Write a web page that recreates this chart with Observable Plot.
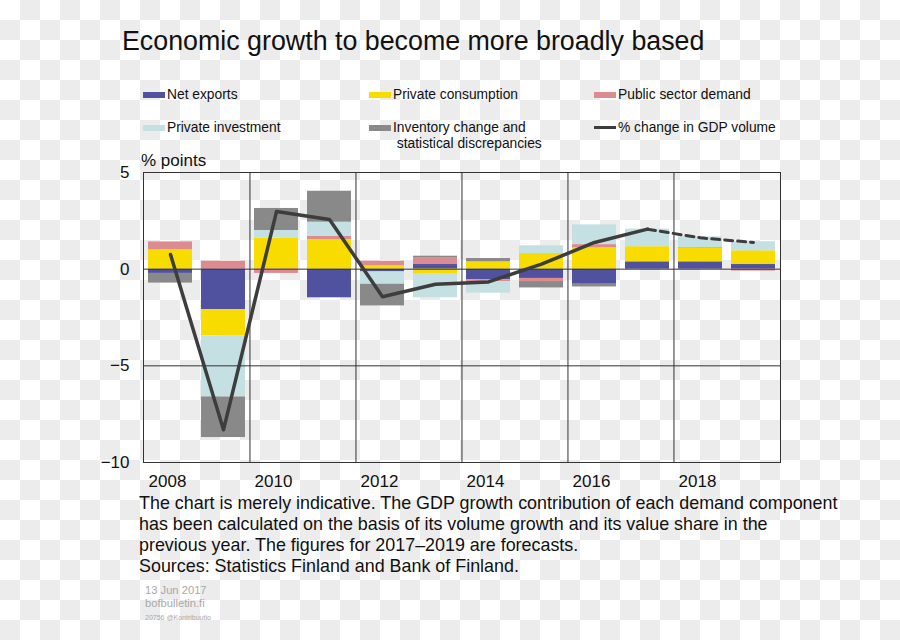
<!DOCTYPE html>
<html>
<head>
<meta charset="utf-8">
<script src="https://cdn.jsdelivr.net/npm/d3@7"></script>
<script src="https://cdn.jsdelivr.net/npm/@observablehq/plot@0.6"></script>
<style>
  html, body { margin: 0; padding: 0; }
  body {
    width: 900px; height: 640px; position: relative; overflow: hidden;
    font-family: "Liberation Sans", Arial, sans-serif; color: #111;
    background: repeating-conic-gradient(#ececec 0% 25%, #ffffff 0% 50%) 0 0 / 40px 40px;
  }
  .abs { position: absolute; white-space: nowrap; }
  #title { left: 122px; top: 26px; font-size: 26.8px; }
  .leg { position: absolute; font-size: 13.8px; line-height: 16px; }
  .sw { position: absolute; width: 22px; height: 6px; }
  #chart { position: absolute; left: 0; top: 150px; }
  #ylab { left: 141px; top: 151px; font-size: 17px; }
  #note { left: 139px; top: 492.5px; font-size: 17.9px; line-height: 21.3px; }
  #meta { left: 145px; top: 584px; color: #a9a9a9; font-size: 11.2px; line-height: 13px; }
</style>
</head>
<body>
<div id="title" class="abs">Economic growth to become more broadly based</div>
<div id="legend"></div>
<div id="chart"></div>
<div id="ylab" class="abs">% points</div>
<div id="note" class="abs">The chart is merely indicative. The GDP growth contribution of each demand component<br>has been calculated on the basis of its volume growth and its value share in the<br>previous year. The figures for 2017–2019 are forecasts.<br>Sources: Statistics Finland and Bank of Finland.</div>
<div id="meta" class="abs">13 Jun 2017<br>bofbulletin.fi<br><span style="font-size:7px;line-height:9px">20756 @Kontribuutio</span></div>
<script>
// ---- data ----
const years = [2008, 2009, 2010, 2011, 2012, 2013, 2014, 2015, 2016, 2017, 2018, 2019];
const tickYears = [2008, 2010, 2012, 2014, 2016, 2018];
const components = ["Net exports", "Private consumption", "Public sector demand", "Private investment", "Inventory change and statistical discrepancies"];
const colors = ["#50519f", "#f8dc00", "#dc8b90", "#c4e0e3", "#898989"];

const netExports      = [-0.22, -2.09,  0.00, -1.48, -0.14,  0.24, -0.55, -0.48, -0.78, 0.38, 0.38, 0.24];
const privConsumption = [ 1.00, -1.36,  1.60,  1.52,  0.17, -0.26,  0.38,  0.81,  1.10, 0.78, 0.71, 0.71];
const publicDemand    = [ 0.41,  0.41, -0.22,  0.17,  0.24,  0.36, -0.09, -0.16,  0.17, 0.00, 0.03, -0.10];
const privInvestment  = [ 0.00, -3.16,  0.40,  0.74, -0.64, -1.22, -0.60,  0.40,  1.02, 0.91, 0.55, 0.47];
const inventory       = [-0.50, -2.10,  1.14,  1.60, -1.12,  0.07,  0.17, -0.33, -0.14, 0.00, 0.00, 0.00];
const gdpChange       = [ 0.76, -8.31,  2.98,  2.57, -1.43, -0.78, -0.66,  0.26,  1.38, 2.07, 1.62, 1.38];
const forecastStart = 2017;

// ---- build tables ----
const series = [netExports, privConsumption, publicDemand, privInvestment, inventory];
const long = [];
components.forEach((c, i) => years.forEach((y, j) => long.push({year: y, component: c, value: series[i][j]})));
const gdp = years.map((y, j) => ({year: y, value: gdpChange[j]}));
const gdpSolid = gdp.filter(d => d.year <= forecastStart);
const gdpDashed = gdp.filter(d => d.year >= forecastStart);

// ---- legend ----
const legendItems = [
  {label: "Net exports", color: colors[0], x: 143, y: 87},
  {label: "Private consumption", color: colors[1], x: 369, y: 87},
  {label: "Public sector demand", color: colors[2], x: 594, y: 87},
  {label: "Private investment", color: colors[3], x: 143, y: 120},
  {label: "Inventory change and<br>&nbsp;statistical discrepancies", color: colors[4], x: 369, y: 120},
  {label: "% change in GDP volume", color: "#3d3d3d", x: 594, y: 120, line: true}
];
const leg = document.getElementById("legend");
legendItems.forEach(it => {
  const s = document.createElement("div");
  s.className = "sw";
  s.style.left = it.x + "px";
  s.style.top = (it.y + (it.line ? 6 : 4.5)) + "px";
  s.style.background = it.color;
  if (it.line) { s.style.height = "3px"; }
  leg.appendChild(s);
  const t = document.createElement("div");
  t.className = "leg";
  t.style.left = (it.x + 24) + "px";
  t.style.top = it.y + "px";
  t.innerHTML = it.label;
  leg.appendChild(t);
});

// ---- chart ----
const W = 900, H = 345, mL = 143, mR = 120, mT = 22, mB = 33;
const step = (W - mL - mR) / years.length;
const chart = Plot.plot({
  width: W, height: H,
  marginLeft: mL, marginRight: mR, marginTop: mT, marginBottom: mB,
  style: {background: "transparent", fontFamily: "'Liberation Sans', Arial, sans-serif", fontSize: "17px", color: "#111", overflow: "visible"},
  x: {type: "band", domain: years, paddingInner: 0.17, paddingOuter: 0.085, axis: null},
  y: {domain: [-10, 5], axis: null},
  color: {domain: components, range: colors},
  marks: [
    Plot.barY(long, {x: "year", y: "value", fill: "component"}),
    Plot.ruleY([0, -5], {stroke: "#333", strokeWidth: 1}),
    Plot.ruleX(tickYears.slice(1), {x: d => d, dx: -step / 2, stroke: "#333", strokeWidth: 1}),
    Plot.line(gdpSolid, {x: "year", y: "value", stroke: "#3d3d3d", strokeWidth: 3.5}),
    Plot.line(gdpDashed, {x: "year", y: "value", stroke: "#3d3d3d", strokeWidth: 3, strokeDasharray: "8,5"}),
    Plot.frame({stroke: "#333", strokeWidth: 1}),
    Plot.axisX(tickYears, {tickSize: 0, tickPadding: 12, dx: -3, tickFormat: d => String(d), label: null, fontSize: 17}),
    Plot.axisY([5, 0, -5, -10], {tickSize: 0, tickPadding: 14, label: null, fontSize: 17})
  ]
});
document.getElementById("chart").appendChild(chart);
</script>
</body>
</html>
